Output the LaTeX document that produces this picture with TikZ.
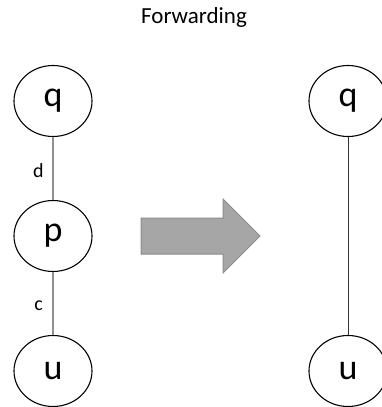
\documentclass[tikz,border=0pt]{standalone}
\usepackage{fontspec}
\setmainfont{Carlito}
\usetikzlibrary{shapes.geometric}
\definecolor{arrowfill}{HTML}{A6A6A6}
\definecolor{arrowdraw}{HTML}{8C8C8C}
\definecolor{edgegray}{HTML}{909090}
\begin{document}
\begin{tikzpicture}[x=1pt,y=-1pt,
  vertex/.style={draw=black,line width=1.1pt,ellipse,minimum width=78pt,minimum height=71pt,inner sep=0pt,font=\fontsize{36}{36}\selectfont},
  lbl/.style={font=\fontsize{20}{20}\selectfont,inner sep=0pt},
  leftedge/.style={draw=edgegray,line width=1.3pt},
  rightedge/.style={draw=black!80,line width=0.8pt}]
\useasboundingbox (0,0) rectangle (381,407);
\node[font=\fontsize{23}{23}\selectfont] (title) at (194,17) {Forwarding};
\node[vertex] (q1) at (53,101) {q};
\node[vertex] (p1) at (53,236) {p};
\node[vertex] (u1) at (53,371) {u};
\node[vertex] (q2) at (348,101) {q};
\node[vertex] (u2) at (348,371) {u};
\draw[leftedge] (q1) -- (p1);
\draw[leftedge] (p1) -- (u1);
\draw[rightedge] (q2) -- (u2);
\node[lbl] (d) at (38.5,171) {d};
\node[lbl] (c) at (38.5,306) {c};
\draw[fill=arrowfill,draw=arrowdraw,line width=1pt]
  (141,218) -- (223,218) -- (223,199) -- (260,236) -- (223,273) -- (223,254) -- (141,254) -- cycle;
\end{tikzpicture}
\end{document}
